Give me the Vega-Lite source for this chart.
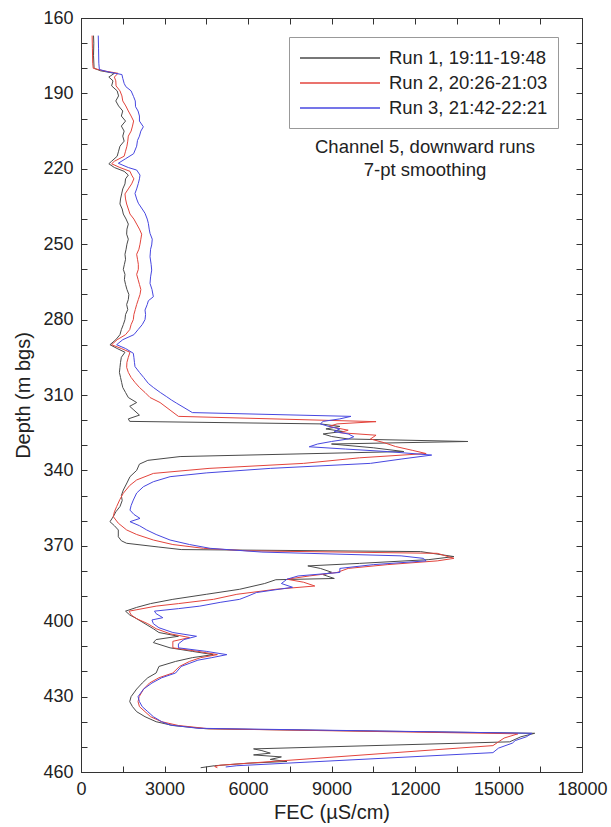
{
  "$schema": "https://vega.github.io/schema/vega-lite/v6.json",
  "width": 501,
  "height": 754,
  "autosize": "none",
  "padding": {"left": 81, "top": 18, "right": 29, "bottom": 55},
  "background": "white",
  "config": {
    "view": {"stroke": "#333", "strokeWidth": 1},
    "font": "Liberation Sans",
    "axis": {"grid": false, "domainColor": "#333", "tickColor": "#333", "labelColor": "#222", "titleColor": "#222", "labelFont": "Liberation Sans", "titleFont": "Liberation Sans", "titleFontWeight": "normal"}
  },
  "datasets": {
    "runs": [
      {"r": 1, "run": "Run 1, 19:11-19:48"},
      {"r": 2, "run": "Run 2, 20:26-21:03"},
      {"r": 3, "run": "Run 3, 21:42-22:21"}
    ],
    "note": [
      {"x": 12360, "y": 211.3, "t": "Channel 5, downward runs"},
      {"x": 12360, "y": 220.4, "t": "7-pt smoothing"}
    ],
    "fec": [
      {"r":1,"d":167,"v":450},{"r":1,"d":170,"v":460},{"r":1,"d":175,"v":450},{"r":1,"d":180,"v":470},{"r":1,"d":181,"v":700},{"r":1,"d":182,"v":1200},{"r":1,"d":183.5,"v":1000},{"r":1,"d":185,"v":1150},{"r":1,"d":187,"v":1100},{"r":1,"d":189,"v":1300},{"r":1,"d":191,"v":1350},{"r":1,"d":193,"v":1250},{"r":1,"d":195,"v":1350},{"r":1,"d":197,"v":1500},{"r":1,"d":199,"v":1450},{"r":1,"d":201,"v":1600},{"r":1,"d":203,"v":1450},{"r":1,"d":205,"v":1550},{"r":1,"d":207,"v":1500},{"r":1,"d":209,"v":1550},{"r":1,"d":211,"v":1400},{"r":1,"d":213,"v":1350},{"r":1,"d":215,"v":1300},{"r":1,"d":217,"v":1100},{"r":1,"d":218,"v":1000},{"r":1,"d":219.5,"v":1200},{"r":1,"d":221,"v":1550},{"r":1,"d":222.5,"v":1700},{"r":1,"d":224,"v":1600},{"r":1,"d":226,"v":1580},{"r":1,"d":228,"v":1500},{"r":1,"d":230,"v":1460},{"r":1,"d":232,"v":1420},{"r":1,"d":234,"v":1400},{"r":1,"d":236,"v":1480},{"r":1,"d":238,"v":1520},{"r":1,"d":240,"v":1620},{"r":1,"d":242,"v":1700},{"r":1,"d":244,"v":1650},{"r":1,"d":246,"v":1640},{"r":1,"d":248,"v":1700},{"r":1,"d":250,"v":1650},{"r":1,"d":252,"v":1620},{"r":1,"d":254,"v":1580},{"r":1,"d":256,"v":1600},{"r":1,"d":258,"v":1560},{"r":1,"d":260,"v":1520},{"r":1,"d":262,"v":1580},{"r":1,"d":264,"v":1560},{"r":1,"d":266,"v":1600},{"r":1,"d":268,"v":1650},{"r":1,"d":270,"v":1720},{"r":1,"d":272,"v":1700},{"r":1,"d":274,"v":1640},{"r":1,"d":276,"v":1680},{"r":1,"d":278,"v":1600},{"r":1,"d":280,"v":1580},{"r":1,"d":282,"v":1520},{"r":1,"d":284,"v":1450},{"r":1,"d":286,"v":1400},{"r":1,"d":288,"v":1250},{"r":1,"d":290,"v":1040},{"r":1,"d":291.5,"v":1300},{"r":1,"d":293,"v":1580},{"r":1,"d":295,"v":1450},{"r":1,"d":297,"v":1420},{"r":1,"d":299,"v":1400},{"r":1,"d":301,"v":1380},{"r":1,"d":303,"v":1420},{"r":1,"d":305,"v":1460},{"r":1,"d":307,"v":1500},{"r":1,"d":309,"v":1600},{"r":1,"d":311,"v":1700},{"r":1,"d":313,"v":2000},{"r":1,"d":314.5,"v":1750},{"r":1,"d":316,"v":1900},{"r":1,"d":318,"v":2100},{"r":1,"d":319.5,"v":1700},{"r":1,"d":320.5,"v":1750},{"r":1,"d":321.5,"v":8600},{"r":1,"d":322.5,"v":9300},{"r":1,"d":323.5,"v":8800},{"r":1,"d":324.5,"v":9400},{"r":1,"d":325.5,"v":8700},{"r":1,"d":326.5,"v":9000},{"r":1,"d":327.5,"v":9600},{"r":1,"d":328.5,"v":13900},{"r":1,"d":329.5,"v":9000},{"r":1,"d":331,"v":10500},{"r":1,"d":332.5,"v":11600},{"r":1,"d":334.5,"v":3560},{"r":1,"d":336,"v":2400},{"r":1,"d":337.5,"v":2100},{"r":1,"d":340,"v":2000},{"r":1,"d":342.5,"v":1760},{"r":1,"d":345,"v":1650},{"r":1,"d":347.8,"v":1520},{"r":1,"d":350,"v":1450},{"r":1,"d":352,"v":1480},{"r":1,"d":354.4,"v":1400},{"r":1,"d":356.5,"v":1250},{"r":1,"d":358.4,"v":1160},{"r":1,"d":360.4,"v":1040},{"r":1,"d":362,"v":1200},{"r":1,"d":363.7,"v":1340},{"r":1,"d":366.4,"v":1340},{"r":1,"d":368,"v":1450},{"r":1,"d":369,"v":1640},{"r":1,"d":370.5,"v":2800},{"r":1,"d":371.5,"v":3600},{"r":1,"d":372.3,"v":12200},{"r":1,"d":374.3,"v":13400},{"r":1,"d":375.5,"v":12500},{"r":1,"d":377,"v":10000},{"r":1,"d":378,"v":8150},{"r":1,"d":379,"v":8600},{"r":1,"d":380.5,"v":9000},{"r":1,"d":381.5,"v":8700},{"r":1,"d":383,"v":9100},{"r":1,"d":383.5,"v":7000},{"r":1,"d":385,"v":6600},{"r":1,"d":387.3,"v":5700},{"r":1,"d":389.3,"v":4500},{"r":1,"d":391.3,"v":3300},{"r":1,"d":393,"v":2500},{"r":1,"d":394.5,"v":2000},{"r":1,"d":396,"v":1600},{"r":1,"d":397.5,"v":1750},{"r":1,"d":399,"v":2000},{"r":1,"d":401,"v":2300},{"r":1,"d":403,"v":2600},{"r":1,"d":404.5,"v":2800},{"r":1,"d":406,"v":3500},{"r":1,"d":407.3,"v":2700},{"r":1,"d":408.5,"v":2600},{"r":1,"d":410.6,"v":3200},{"r":1,"d":412,"v":4000},{"r":1,"d":413.3,"v":4750},{"r":1,"d":414.5,"v":4000},{"r":1,"d":416,"v":3400},{"r":1,"d":418,"v":2800},{"r":1,"d":420.6,"v":2700},{"r":1,"d":422.5,"v":2400},{"r":1,"d":424.6,"v":2200},{"r":1,"d":427,"v":2000},{"r":1,"d":430,"v":1800},{"r":1,"d":432,"v":1750},{"r":1,"d":434,"v":1850},{"r":1,"d":436,"v":2000},{"r":1,"d":438,"v":2300},{"r":1,"d":440,"v":2700},{"r":1,"d":441.5,"v":3300},{"r":1,"d":442.8,"v":4500},{"r":1,"d":444.6,"v":16300},{"r":1,"d":446,"v":15800},{"r":1,"d":448,"v":15400},{"r":1,"d":450.8,"v":6200},{"r":1,"d":451.5,"v":6500},{"r":1,"d":452.5,"v":6800},{"r":1,"d":453.2,"v":6200},{"r":1,"d":454,"v":7200},{"r":1,"d":455,"v":6800},{"r":1,"d":455.8,"v":7400},{"r":1,"d":456.5,"v":6000},{"r":1,"d":457.5,"v":4800},{"r":1,"d":458.3,"v":4300},
      {"r":2,"d":167,"v":400},{"r":2,"d":172,"v":410},{"r":2,"d":178,"v":420},{"r":2,"d":180,"v":440},{"r":2,"d":181,"v":800},{"r":2,"d":182,"v":1330},{"r":2,"d":183.5,"v":1200},{"r":2,"d":185,"v":1250},{"r":2,"d":187,"v":1260},{"r":2,"d":189,"v":1400},{"r":2,"d":191,"v":1470},{"r":2,"d":193,"v":1500},{"r":2,"d":195,"v":1610},{"r":2,"d":197,"v":1700},{"r":2,"d":199,"v":1800},{"r":2,"d":201,"v":1890},{"r":2,"d":203,"v":1850},{"r":2,"d":205,"v":1800},{"r":2,"d":207,"v":1700},{"r":2,"d":209,"v":1680},{"r":2,"d":211,"v":1650},{"r":2,"d":213,"v":1600},{"r":2,"d":215,"v":1550},{"r":2,"d":217,"v":1200},{"r":2,"d":218,"v":1100},{"r":2,"d":219.5,"v":1400},{"r":2,"d":221,"v":1760},{"r":2,"d":222.5,"v":1820},{"r":2,"d":224,"v":1900},{"r":2,"d":226,"v":1820},{"r":2,"d":228,"v":1700},{"r":2,"d":230,"v":1580},{"r":2,"d":232,"v":1600},{"r":2,"d":234,"v":1640},{"r":2,"d":236,"v":1700},{"r":2,"d":238,"v":1760},{"r":2,"d":240,"v":1900},{"r":2,"d":242,"v":2000},{"r":2,"d":244,"v":2100},{"r":2,"d":246,"v":2180},{"r":2,"d":248,"v":2150},{"r":2,"d":250,"v":2120},{"r":2,"d":252,"v":2080},{"r":2,"d":254,"v":2000},{"r":2,"d":256,"v":2030},{"r":2,"d":258,"v":2060},{"r":2,"d":260,"v":2060},{"r":2,"d":262,"v":2000},{"r":2,"d":264,"v":2050},{"r":2,"d":266,"v":2100},{"r":2,"d":268,"v":2150},{"r":2,"d":270,"v":2120},{"r":2,"d":272,"v":2060},{"r":2,"d":274,"v":2000},{"r":2,"d":276,"v":1950},{"r":2,"d":278,"v":1900},{"r":2,"d":280,"v":1880},{"r":2,"d":282,"v":1800},{"r":2,"d":284,"v":1750},{"r":2,"d":286,"v":1600},{"r":2,"d":288,"v":1300},{"r":2,"d":290,"v":1100},{"r":2,"d":291.5,"v":1450},{"r":2,"d":293,"v":1760},{"r":2,"d":295,"v":1700},{"r":2,"d":297,"v":1650},{"r":2,"d":299,"v":1640},{"r":2,"d":301,"v":1700},{"r":2,"d":303,"v":1800},{"r":2,"d":305,"v":1940},{"r":2,"d":307,"v":2100},{"r":2,"d":309,"v":2300},{"r":2,"d":311,"v":2480},{"r":2,"d":313,"v":2840},{"r":2,"d":316,"v":3200},{"r":2,"d":318.5,"v":3500},{"r":2,"d":320.6,"v":10600},{"r":2,"d":321.5,"v":9200},{"r":2,"d":322.5,"v":8900},{"r":2,"d":324,"v":9600},{"r":2,"d":325,"v":9300},{"r":2,"d":326,"v":10600},{"r":2,"d":327.5,"v":10400},{"r":2,"d":329,"v":10900},{"r":2,"d":330.5,"v":11300},{"r":2,"d":332,"v":11900},{"r":2,"d":333.3,"v":12400},{"r":2,"d":335,"v":10000},{"r":2,"d":337.2,"v":8000},{"r":2,"d":339.2,"v":4600},{"r":2,"d":341.2,"v":2600},{"r":2,"d":343.8,"v":2000},{"r":2,"d":346,"v":1750},{"r":2,"d":349.1,"v":1520},{"r":2,"d":351.5,"v":1400},{"r":2,"d":354.4,"v":1280},{"r":2,"d":356.5,"v":1200},{"r":2,"d":358.4,"v":1160},{"r":2,"d":361,"v":1340},{"r":2,"d":363.7,"v":1640},{"r":2,"d":365.5,"v":2000},{"r":2,"d":367.7,"v":2600},{"r":2,"d":369.5,"v":3300},{"r":2,"d":371,"v":4400},{"r":2,"d":372,"v":6000},{"r":2,"d":373,"v":12800},{"r":2,"d":375,"v":13400},{"r":2,"d":376,"v":12800},{"r":2,"d":377.5,"v":11000},{"r":2,"d":379,"v":9600},{"r":2,"d":380.6,"v":9200},{"r":2,"d":382,"v":8200},{"r":2,"d":383.3,"v":7400},{"r":2,"d":384.5,"v":8000},{"r":2,"d":386,"v":8400},{"r":2,"d":387.3,"v":7000},{"r":2,"d":389.3,"v":5600},{"r":2,"d":391.3,"v":4760},{"r":2,"d":393,"v":3500},{"r":2,"d":394,"v":2700},{"r":2,"d":396,"v":1730},{"r":2,"d":397.5,"v":1800},{"r":2,"d":399,"v":2000},{"r":2,"d":401,"v":2400},{"r":2,"d":403,"v":2700},{"r":2,"d":405,"v":3200},{"r":2,"d":406.5,"v":3900},{"r":2,"d":408,"v":3300},{"r":2,"d":410.6,"v":3300},{"r":2,"d":412,"v":4200},{"r":2,"d":413.3,"v":4900},{"r":2,"d":414.5,"v":4300},{"r":2,"d":416,"v":3900},{"r":2,"d":418,"v":3540},{"r":2,"d":420.6,"v":3300},{"r":2,"d":422.5,"v":2800},{"r":2,"d":424.6,"v":2460},{"r":2,"d":427,"v":2250},{"r":2,"d":430,"v":2090},{"r":2,"d":432,"v":2050},{"r":2,"d":434,"v":2100},{"r":2,"d":436,"v":2300},{"r":2,"d":438,"v":2500},{"r":2,"d":440,"v":2900},{"r":2,"d":441.5,"v":3500},{"r":2,"d":442.8,"v":4600},{"r":2,"d":444.8,"v":15700},{"r":2,"d":446.5,"v":15200},{"r":2,"d":448,"v":15000},{"r":2,"d":449.5,"v":14800},{"r":2,"d":457.3,"v":5000},{"r":2,"d":457.8,"v":4800},{"r":2,"d":458.3,"v":4900},
      {"r":3,"d":167,"v":620},{"r":3,"d":172,"v":630},{"r":3,"d":178,"v":640},{"r":3,"d":180.5,"v":660},{"r":3,"d":181.5,"v":1000},{"r":3,"d":182.5,"v":1470},{"r":3,"d":184,"v":1500},{"r":3,"d":186,"v":1550},{"r":3,"d":187.3,"v":1610},{"r":3,"d":189,"v":1800},{"r":3,"d":191.3,"v":1890},{"r":3,"d":193,"v":1950},{"r":3,"d":195.3,"v":1960},{"r":3,"d":197,"v":2050},{"r":3,"d":199,"v":2100},{"r":3,"d":201,"v":2100},{"r":3,"d":203.3,"v":2240},{"r":3,"d":205,"v":2150},{"r":3,"d":207,"v":2100},{"r":3,"d":208.7,"v":2030},{"r":3,"d":211,"v":2000},{"r":3,"d":214,"v":1890},{"r":3,"d":216,"v":1600},{"r":3,"d":217.8,"v":1340},{"r":3,"d":219.5,"v":1700},{"r":3,"d":220.5,"v":2000},{"r":3,"d":222.5,"v":2120},{"r":3,"d":224,"v":2100},{"r":3,"d":225.8,"v":2060},{"r":3,"d":228,"v":2000},{"r":3,"d":229.8,"v":1940},{"r":3,"d":232,"v":2000},{"r":3,"d":233.7,"v":2060},{"r":3,"d":236,"v":2200},{"r":3,"d":237.7,"v":2300},{"r":3,"d":240,"v":2380},{"r":3,"d":241.7,"v":2420},{"r":3,"d":244,"v":2450},{"r":3,"d":245.7,"v":2480},{"r":3,"d":248,"v":2560},{"r":3,"d":250.3,"v":2540},{"r":3,"d":252,"v":2500},{"r":3,"d":255,"v":2480},{"r":3,"d":258,"v":2520},{"r":3,"d":260.3,"v":2540},{"r":3,"d":263,"v":2500},{"r":3,"d":265.6,"v":2480},{"r":3,"d":268,"v":2550},{"r":3,"d":270.9,"v":2600},{"r":3,"d":272.5,"v":2420},{"r":3,"d":274,"v":2380},{"r":3,"d":276.2,"v":2300},{"r":3,"d":278,"v":2320},{"r":3,"d":280,"v":2300},{"r":3,"d":282,"v":2200},{"r":3,"d":284,"v":2050},{"r":3,"d":286,"v":1900},{"r":3,"d":288,"v":1500},{"r":3,"d":290,"v":1280},{"r":3,"d":291.5,"v":1600},{"r":3,"d":293.4,"v":1880},{"r":3,"d":295,"v":1900},{"r":3,"d":297,"v":1920},{"r":3,"d":298.7,"v":1940},{"r":3,"d":301,"v":2100},{"r":3,"d":303,"v":2250},{"r":3,"d":305.4,"v":2420},{"r":3,"d":307,"v":2600},{"r":3,"d":309,"v":2850},{"r":3,"d":310.7,"v":3080},{"r":3,"d":312,"v":3250},{"r":3,"d":313.3,"v":3440},{"r":3,"d":315,"v":3700},{"r":3,"d":317,"v":4000},{"r":3,"d":318.5,"v":9700},{"r":3,"d":319.5,"v":9300},{"r":3,"d":320.5,"v":8700},{"r":3,"d":321.5,"v":8600},{"r":3,"d":322.5,"v":8900},{"r":3,"d":323.5,"v":9300},{"r":3,"d":324.5,"v":9100},{"r":3,"d":325.5,"v":9600},{"r":3,"d":326.6,"v":9800},{"r":3,"d":327.5,"v":9600},{"r":3,"d":328.5,"v":9000},{"r":3,"d":329.5,"v":8500},{"r":3,"d":330.6,"v":8200},{"r":3,"d":331.5,"v":9500},{"r":3,"d":332.5,"v":11000},{"r":3,"d":333.9,"v":12600},{"r":3,"d":335.5,"v":11500},{"r":3,"d":337.2,"v":10400},{"r":3,"d":339.2,"v":6800},{"r":3,"d":341,"v":4500},{"r":3,"d":342.5,"v":3200},{"r":3,"d":344.5,"v":2600},{"r":3,"d":346.5,"v":2240},{"r":3,"d":349,"v":2000},{"r":3,"d":351.8,"v":1880},{"r":3,"d":354,"v":1800},{"r":3,"d":355.8,"v":1760},{"r":3,"d":357.5,"v":1900},{"r":3,"d":359.1,"v":2120},{"r":3,"d":360.4,"v":1760},{"r":3,"d":362,"v":2100},{"r":3,"d":363.7,"v":2360},{"r":3,"d":365.5,"v":2700},{"r":3,"d":367.7,"v":3200},{"r":3,"d":369.5,"v":3900},{"r":3,"d":371,"v":4640},{"r":3,"d":372.5,"v":6500},{"r":3,"d":374,"v":11500},{"r":3,"d":375,"v":12300},{"r":3,"d":376,"v":12400},{"r":3,"d":377.5,"v":10500},{"r":3,"d":379,"v":9300},{"r":3,"d":380.6,"v":9300},{"r":3,"d":382,"v":7800},{"r":3,"d":383.3,"v":7400},{"r":3,"d":385,"v":7200},{"r":3,"d":386.5,"v":7600},{"r":3,"d":388.6,"v":6300},{"r":3,"d":390,"v":6000},{"r":3,"d":391.3,"v":5700},{"r":3,"d":392.5,"v":5000},{"r":3,"d":394,"v":4270},{"r":3,"d":395,"v":3500},{"r":3,"d":396,"v":2640},{"r":3,"d":397,"v":2700},{"r":3,"d":398.6,"v":2940},{"r":3,"d":399.5,"v":2550},{"r":3,"d":401,"v":2600},{"r":3,"d":402.6,"v":2800},{"r":3,"d":404.5,"v":3300},{"r":3,"d":406,"v":4150},{"r":3,"d":407.3,"v":3700},{"r":3,"d":409,"v":3500},{"r":3,"d":410.6,"v":3500},{"r":3,"d":412,"v":4500},{"r":3,"d":413.3,"v":5240},{"r":3,"d":414.5,"v":4700},{"r":3,"d":415.5,"v":4200},{"r":3,"d":418,"v":3600},{"r":3,"d":420.6,"v":3400},{"r":3,"d":422.5,"v":2900},{"r":3,"d":424.6,"v":2550},{"r":3,"d":427,"v":2250},{"r":3,"d":430,"v":2050},{"r":3,"d":432,"v":2100},{"r":3,"d":434,"v":2200},{"r":3,"d":436,"v":2400},{"r":3,"d":438,"v":2600},{"r":3,"d":440,"v":2900},{"r":3,"d":441.3,"v":3200},{"r":3,"d":442.6,"v":4200},{"r":3,"d":444.6,"v":16200},{"r":3,"d":446,"v":16000},{"r":3,"d":447.5,"v":15600},{"r":3,"d":448.5,"v":15500},{"r":3,"d":450.5,"v":15000},{"r":3,"d":452.3,"v":14800},{"r":3,"d":457.5,"v":5600},{"r":3,"d":458,"v":5200}
    ]
  },
  "layer": [
    {
      "data": {"name": "fec"},
      "transform": [{"lookup": "r", "from": {"data": {"name": "runs"}, "key": "r", "fields": ["run"]}}],
      "mark": {"type": "line", "strokeWidth": 1, "clip": true},
      "encoding": {
        "x": {
          "field": "v", "type": "quantitative",
          "scale": {"domain": [0, 18000], "nice": false, "zero": false},
          "axis": {
            "orient": "bottom",
            "values": [0,1500,3000,4500,6000,7500,9000,10500,12000,13500,15000,16500,18000],
            "labelExpr": "datum.value % 3000 == 0 ? datum.label : ''",
            "format": "d", "tickSize": -6, "labelFontSize": 18, "labelPadding": 14,
            "labelFlush": false, "labelOverlap": false,
            "title": "FEC (µS/cm)", "titleFontSize": 20, "titlePadding": 4
          }
        },
        "y": {
          "field": "d", "type": "quantitative",
          "scale": {"domain": [160, 460], "reverse": true, "nice": false, "zero": false},
          "axis": {
            "orient": "left",
            "values": [160,170,180,190,200,210,220,230,240,250,260,270,280,290,300,310,320,330,340,350,360,370,380,390,400,410,420,430,440,450,460],
            "labelExpr": "(datum.value - 160) % 30 == 0 ? datum.label : ''",
            "tickSize": -6, "labelFontSize": 18, "labelPadding": 14,
            "labelFlush": false, "labelOverlap": false,
            "title": "Depth (m bgs)", "titleFontSize": 20, "titlePadding": 9
          }
        },
        "stroke": {
          "field": "run", "type": "nominal",
          "scale": {"domain": ["Run 1, 19:11-19:48", "Run 2, 20:26-21:03", "Run 3, 21:42-22:21"], "range": ["#4a4a4a", "#e3443c", "#4747e0"]},
          "legend": {
            "orient": "none", "legendX": 208, "legendY": 19,
            "title": null, "strokeColor": "#999", "fillColor": "white", "padding": 10,
            "symbolType": "M-1,0H7", "symbolSize": 400, "symbolStrokeWidth": 1.3,
            "labelOffset": 68, "labelFontSize": 18.5, "labelFont": "Liberation Sans", "labelColor": "#222",
            "rowPadding": 4
          }
        },
        "order": {"field": "d", "type": "quantitative"}
      }
    },
    {
      "data": {"name": "note"},
      "mark": {"type": "text", "fontSize": 18.5, "font": "Liberation Sans", "color": "#222", "align": "center", "baseline": "middle"},
      "encoding": {
        "x": {
          "field": "x", "type": "quantitative",
          "scale": {"domain": [0, 18000], "nice": false, "zero": false},
          "axis": {"orient": "top", "values": [0,1500,3000,4500,6000,7500,9000,10500,12000,13500,15000,16500,18000], "labels": false, "title": null, "tickSize": -6}
        },
        "y": {
          "field": "y", "type": "quantitative",
          "scale": {"domain": [160, 460], "reverse": true, "nice": false, "zero": false},
          "axis": {"orient": "right", "values": [160,170,180,190,200,210,220,230,240,250,260,270,280,290,300,310,320,330,340,350,360,370,380,390,400,410,420,430,440,450,460], "labels": false, "title": null, "tickSize": -6}
        },
        "text": {"field": "t", "type": "nominal"}
      }
    }
  ],
  "resolve": {"axis": {"x": "independent", "y": "independent"}}
}
